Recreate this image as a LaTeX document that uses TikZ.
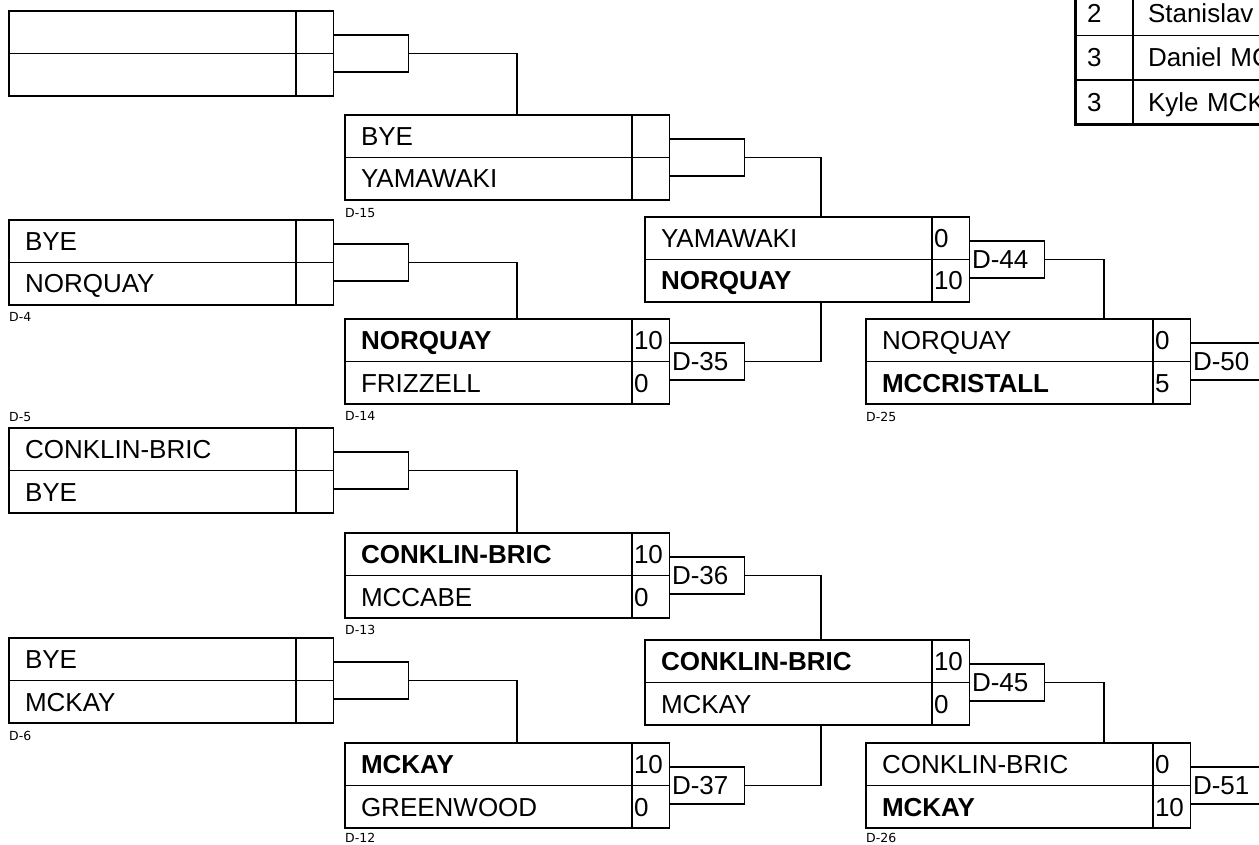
\documentclass[tikz,border=0pt]{standalone}
\usepackage{fontspec}
\setmainfont{Liberation Sans}
\newfontfamily\idfont{DejaVu Sans}
\usetikzlibrary{positioning}
\tikzset{
  namecell/.style={rectangle, draw=black, line width=1.3pt, minimum width=287pt,
                   minimum height=42.5pt, text width=255pt, inner xsep=16pt,
                   inner ysep=0pt, outer sep=0pt, align=left, text height=18.5pt,
                   text depth=0pt, font=\fontsize{26}{30}\selectfont},
  scorecell/.style={namecell, minimum width=37.5pt, text width=33.5pt, inner xsep=2pt},
  dbox/.style={namecell, minimum width=75pt, minimum height=37pt, text width=70pt,
               inner xsep=2.5pt},
  link/.style={line width=1.3pt},
  idlabel/.style={font=\idfont\fontsize{12.5}{14}\selectfont, inner sep=0pt,
                  anchor=north west},
  numcell/.style={namecell, minimum width=58pt, text width=34pt, inner xsep=12pt,
                  minimum height=44.5pt},
  plcell/.style={namecell, minimum width=200pt, text width=170pt, inner xsep=15pt,
                 minimum height=44.5pt},
}
\begin{document}
\begin{tikzpicture}[x=1pt, y=-1pt]
  \useasboundingbox (0,0) rectangle (1259,845);
  \clip (0,0) rectangle (1259,845);

  % first round
  \node[namecell, anchor=north west] (m0a) at (9,11) {};
  \node[namecell, below=0pt of m0a] (m0b) {};
  \node[scorecell, right=0pt of m0a] (m0as) {};
  \node[scorecell, right=0pt of m0b] (m0bs) {};
  \node[dbox, right=0pt of m0as.south east] (b0) {};

  \node[namecell, anchor=north west] (m4a) at (9,220) {BYE};
  \node[namecell, below=0pt of m4a] (m4b) {NORQUAY};
  \node[scorecell, right=0pt of m4a] (m4as) {};
  \node[scorecell, right=0pt of m4b] (m4bs) {};
  \node[dbox, right=0pt of m4as.south east] (b4) {};
  \node[idlabel] (l4) at ([yshift=-7pt]m4b.south west) {D-4};

  \node[namecell, anchor=north west] (m5a) at (9,428) {CONKLIN-BRIC};
  \node[namecell, below=0pt of m5a] (m5b) {BYE};
  \node[scorecell, right=0pt of m5a] (m5as) {};
  \node[scorecell, right=0pt of m5b] (m5bs) {};
  \node[dbox, right=0pt of m5as.south east] (b5) {};
  \node[idlabel, anchor=south west] (l5) at ([yshift=6pt]m5a.north west) {D-5};

  \node[namecell, anchor=north west] (m6a) at (9,638) {BYE};
  \node[namecell, below=0pt of m6a] (m6b) {MCKAY};
  \node[scorecell, right=0pt of m6a] (m6as) {};
  \node[scorecell, right=0pt of m6b] (m6bs) {};
  \node[dbox, right=0pt of m6as.south east] (b6) {};
  \node[idlabel] (l6) at ([yshift=-8pt]m6b.south west) {D-6};

  % second round
  \node[namecell, anchor=north west] (m15a) at (345,115) {BYE};
  \node[namecell, below=0pt of m15a] (m15b) {YAMAWAKI};
  \node[scorecell, right=0pt of m15a] (m15as) {};
  \node[scorecell, right=0pt of m15b] (m15bs) {};
  \node[dbox, right=0pt of m15as.south east] (b15) {};
  \node[idlabel] (l15) at ([yshift=-8pt]m15b.south west) {D-15};

  \node[namecell, anchor=north west] (m14a) at (345,319) {\bfseries NORQUAY};
  \node[namecell, below=0pt of m14a] (m14b) {FRIZZELL};
  \node[scorecell, right=0pt of m14a] (m14as) {10};
  \node[scorecell, right=0pt of m14b] (m14bs) {0};
  \node[dbox, right=0pt of m14as.south east] (d35) {D-35};
  \node[idlabel] (l14) at ([yshift=-7pt]m14b.south west) {D-14};

  \node[namecell, anchor=north west] (m13a) at (345,533) {\bfseries CONKLIN-BRIC};
  \node[namecell, below=0pt of m13a] (m13b) {MCCABE};
  \node[scorecell, right=0pt of m13a] (m13as) {10};
  \node[scorecell, right=0pt of m13b] (m13bs) {0};
  \node[dbox, right=0pt of m13as.south east] (d36) {D-36};
  \node[idlabel] (l13) at ([yshift=-7pt]m13b.south west) {D-13};

  \node[namecell, anchor=north west] (m12a) at (345,743) {\bfseries MCKAY};
  \node[namecell, below=0pt of m12a] (m12b) {GREENWOOD};
  \node[scorecell, right=0pt of m12a] (m12as) {10};
  \node[scorecell, right=0pt of m12b] (m12bs) {0};
  \node[dbox, right=0pt of m12as.south east] (d37) {D-37};
  \node[idlabel] (l12) at ([yshift=-5pt]m12b.south west) {D-12};

  % third round
  \node[namecell, anchor=north west] (m44a) at (645,217) {YAMAWAKI};
  \node[namecell, below=0pt of m44a] (m44b) {\bfseries NORQUAY};
  \node[scorecell, right=0pt of m44a] (m44as) {0};
  \node[scorecell, right=0pt of m44b] (m44bs) {10};
  \node[dbox, right=0pt of m44as.south east] (d44) {D-44};

  \node[namecell, anchor=north west] (m45a) at (645,640) {\bfseries CONKLIN-BRIC};
  \node[namecell, below=0pt of m45a] (m45b) {MCKAY};
  \node[scorecell, right=0pt of m45a] (m45as) {10};
  \node[scorecell, right=0pt of m45b] (m45bs) {0};
  \node[dbox, right=0pt of m45as.south east] (d45) {D-45};

  % fourth round
  \node[namecell, anchor=north west] (m50a) at (866,319) {NORQUAY};
  \node[namecell, below=0pt of m50a] (m50b) {\bfseries MCCRISTALL};
  \node[scorecell, right=0pt of m50a] (m50as) {0};
  \node[scorecell, right=0pt of m50b] (m50bs) {5};
  \node[dbox, right=0pt of m50as.south east] (d50) {D-50};
  \node[idlabel] (l25) at ([yshift=-8pt]m50b.south west) {D-25};

  \node[namecell, anchor=north west] (m51a) at (866,743) {CONKLIN-BRIC};
  \node[namecell, below=0pt of m51a] (m51b) {\bfseries MCKAY};
  \node[scorecell, right=0pt of m51a] (m51as) {0};
  \node[scorecell, right=0pt of m51b] (m51bs) {10};
  \node[dbox, right=0pt of m51as.south east] (d51) {D-51};
  \node[idlabel] (l26) at ([yshift=-5pt]m51b.south west) {D-26};

  % connectors
  \draw[link] (b0.east) -| ([xshift=172pt]m15a.north west);
  \draw[link] (b4.east) -| ([xshift=172pt]m14a.north west);
  \draw[link] (b5.east) -| ([xshift=172pt]m13a.north west);
  \draw[link] (b6.east) -| ([xshift=172pt]m12a.north west);
  \draw[link] (b15.east) -| ([xshift=176pt]m44a.north west);
  \draw[link] (d35.east) -| ([xshift=176pt]m44b.south west);
  \draw[link] (d36.east) -| ([xshift=176pt]m45a.north west);
  \draw[link] (d37.east) -| ([xshift=176pt]m45b.south west);
  \draw[link] (d44.east) -| ([xshift=238pt]m50a.north west);
  \draw[link] (d45.east) -| ([xshift=238pt]m51a.north west);

  % placings table
  \node[numcell, anchor=north west] (t1) at (1075,-9) {2};
  \node[numcell, below=0pt of t1] (t2) {3};
  \node[numcell, below=0pt of t2] (t3) {3};
  \node[plcell, right=0pt of t1] (p1) {Stanislav S};
  \node[plcell, right=0pt of t2] (p2) {Daniel MC};
  \node[plcell, right=0pt of t3] (p3) {Kyle MCK};
  \draw[line width=3pt] (t1.north west) -- (t3.south west) -- (p3.south east);
\end{tikzpicture}
\end{document}
